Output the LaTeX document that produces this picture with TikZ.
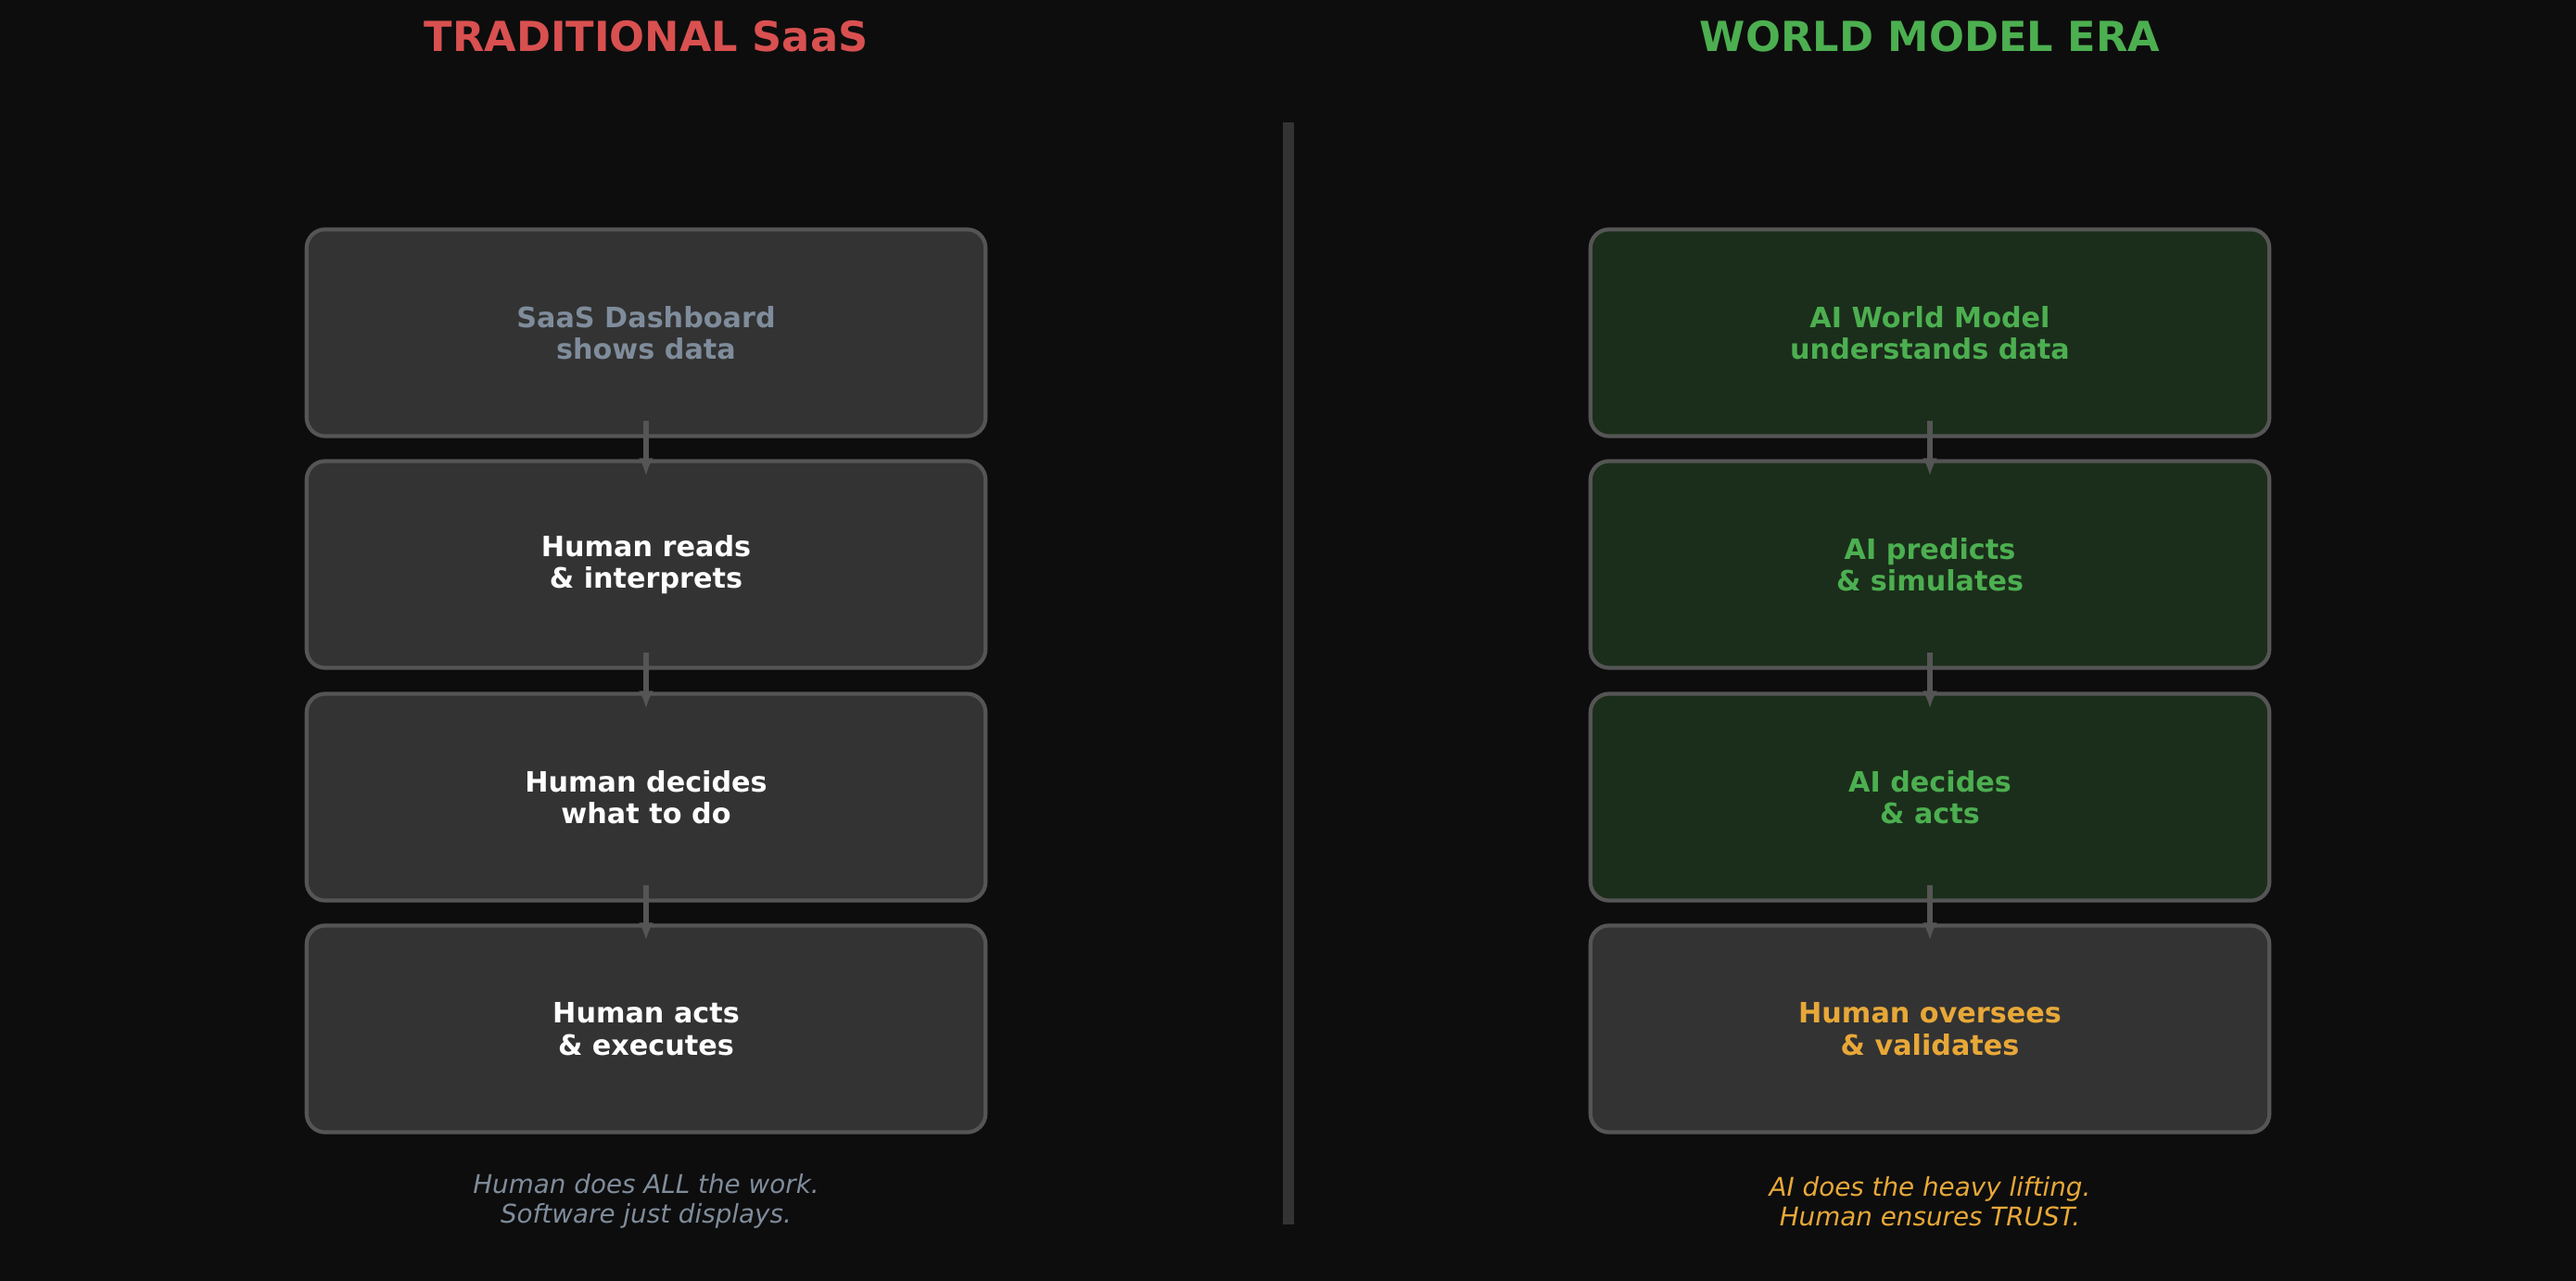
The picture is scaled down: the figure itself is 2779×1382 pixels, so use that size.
\documentclass[tikz,border=0pt]{standalone}
\usepackage{fontspec}
\setmainfont{DejaVu Sans}
\usetikzlibrary{arrows.meta}

\definecolor{bgdark}{HTML}{0D0D0D}
\definecolor{boxgray}{HTML}{333333}
\definecolor{boxgreen}{HTML}{1B2E1B}
\definecolor{edgegray}{HTML}{555555}
\definecolor{txtslate}{HTML}{7F8C9B}
\definecolor{txtgreen}{HTML}{4CAF50}
\definecolor{txtorange}{HTML}{E8A838}
\definecolor{txtred}{HTML}{D95050}

\tikzset{
  stage/.style={draw=edgegray, line width=1.2pt, rounded corners=0.2cm, fill=boxgray,
    minimum width=7.32cm, minimum height=2.23cm, align=center,
    font=\fontsize{8.6}{9.8}\selectfont\bfseries},
  aistage/.style={stage, fill=boxgreen, text=txtgreen},
  flow/.style={draw=edgegray, line width=1.6pt, -{Latex[length=0.19cm, width=0.16cm]}},
  heading/.style={font=\fontsize{12.7}{15}\selectfont\bfseries},
  remark/.style={align=center, font=\fontsize{7.9}{9.1}\selectfont\itshape}
}

\begin{document}
\begin{tikzpicture}[x=0.01cm, y=-0.01cm]
\fill[bgdark] (0,0) rectangle (2779,1382);
\useasboundingbox (0,0) rectangle (2779,1382);

% headings
\node[heading, text=txtred] (lefttitle) at (697,39) {TRADITIONAL SaaS};
\node[heading, text=txtgreen] (righttitle) at (2082,39) {WORLD MODEL ERA};

% divider
\coordinate (divtop) at (1390,132);
\coordinate (divbot) at (1390,1321);
\draw[boxgray, line width=3.4pt] (divtop) -- (divbot);

% traditional side
\node[stage, text=txtslate] (l1) at (697,359) {SaaS Dashboard\\shows data};
\node[stage, text=white] (l2) at (697,609) {Human reads\\\& interprets};
\node[stage, text=white] (l3) at (697,860) {Human decides\\what to do};
\node[stage, text=white] (l4) at (697,1110) {Human acts\\\& executes};

% world model side
\node[aistage] (r1) at (2082,359) {AI World Model\\understands data};
\node[aistage] (r2) at (2082,609) {AI predicts\\\& simulates};
\node[aistage] (r3) at (2082,860) {AI decides\\\& acts};
\node[stage, text=txtorange] (r4) at (2082,1110) {Human oversees\\\& validates};

\draw[flow] ([yshift=0.19cm]l1.south) -- ([yshift=-0.18cm]l2.north);
\draw[flow] ([yshift=0.19cm]l2.south) -- ([yshift=-0.18cm]l3.north);
\draw[flow] ([yshift=0.19cm]l3.south) -- ([yshift=-0.18cm]l4.north);
\draw[flow] ([yshift=0.19cm]r1.south) -- ([yshift=-0.18cm]r2.north);
\draw[flow] ([yshift=0.19cm]r2.south) -- ([yshift=-0.18cm]r3.north);
\draw[flow] ([yshift=0.19cm]r3.south) -- ([yshift=-0.18cm]r4.north);

% footnotes
\node[remark, text=txtslate] (leftnote) at (697,1296) {Human does ALL the work.\\Software just displays.};
\node[remark, text=txtorange] (rightnote) at (2082,1296) {AI does the heavy lifting.\\Human ensures TRUST.};
\end{tikzpicture}
\end{document}
